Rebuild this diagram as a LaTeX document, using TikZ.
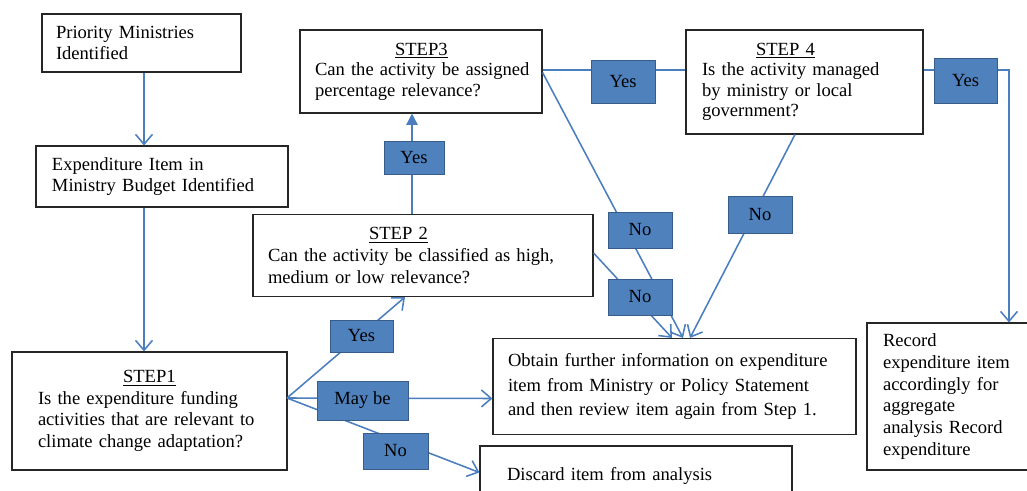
\documentclass[tikz,border=0pt]{standalone}
\usepackage{fontspec}
\setmainfont{Liberation Serif}
\usetikzlibrary{arrows.meta,positioning}

\newlength{\px}
\setlength{\px}{0.025cm}

\definecolor{linkblue}{RGB}{74,126,190}
\definecolor{tagfill}{RGB}{79,129,189}
\definecolor{tagedge}{RGB}{56,93,138}

\tikzset{
	stepbox/.style={draw=black!85, fill=white, line width=0.8pt, align=left, inner ysep=0pt, font=\fontsize{13.2}{15.4}\selectfont},
	tag/.style={draw=tagedge, fill=tagfill, line width=0.6pt, inner sep=0pt, font=\fontsize{13.2}{15.4}\selectfont},
	conn/.style={draw=linkblue, line width=1.1pt},
	arr/.style={conn, -{Straight Barb[length=7pt,width=12pt,line width=1.1pt]}},
	fillarr/.style={conn, -{Triangle[length=8pt,width=8pt]}},
}

\begin{document}
\begin{tikzpicture}[x=0.025cm,y=-0.025cm]
	\useasboundingbox (0,0) rectangle (1027,491);

	\node[stepbox, minimum height=58\px, text width=171\px, inner xsep=14\px] (p) at (141.5,43) {Priority Ministries\\Identified};
	\node[stepbox, minimum height=61\px, text width=220\px, inner xsep=16\px] (e) at (162,176.5) {Expenditure Item in\\Ministry Budget Identified};
	\node[stepbox, minimum height=118\px, text width=223\px, inner xsep=26\px] (s1) at (149.5,411) {\hspace*{85\px}\underline{STEP1}\\Is the expenditure funding\\activities that are relevant to\\climate change adaptation?};
	\node[stepbox, minimum height=82\px, text width=310\px, inner xsep=15\px] (s2) at (423,255.5) {\hspace*{101\px}\underline{STEP 2}\\Can the activity be classified as high,\\medium or low relevance?};
	\node[stepbox, minimum height=83\px, text width=220\px, inner xsep=11\px, font=\fontsize{13.2}{14.6}\selectfont] (s3) at (421,71.5) {\hspace*{84\px}\underline{STEP3}\\\hspace*{4\px}Can the activity be assigned\\\hspace*{4\px}percentage relevance?};
	\node[stepbox, minimum height=104\px, text width=205\px, inner xsep=16\px, font=\fontsize{13.2}{14.6}\selectfont] (s4) at (804.5,82) {\hspace*{54\px}\underline{STEP 4}\\Is the activity managed\\by ministry or local\\government?};
	\node[stepbox, minimum height=96\px, text width=333\px, inner xsep=15\px, font=\fontsize{13.2}{17.7}\selectfont] (o) at (674.5,386.5) {Obtain further information on expenditure\\item from Ministry or Policy Statement\\and then review item again from Step 1.};
	\node[stepbox, minimum height=59\px, text width=258\px, inner xsep=27\px] (d) at (636,475.5) {Discard item from analysis};
	\node[stepbox, minimum height=147\px, text width=141\px, inner xsep=16\px] (r) at (953.5,396.5) {Record\\expenditure item\\accordingly for\\aggregate\\analysis Record\\expenditure};

	\coordinate (spine) at (144,0);
	\coordinate (rise) at (412,0);
	\coordinate (drop) at (1009,0);
	\coordinate (fork) at (287,398);

	\draw[arr] (p.south -| spine) -- (e.north -| spine);
	\draw[arr] (e.south -| spine) -- (s1.north -| spine);
	\draw[arr] (fork) -- ([xshift=-18\px]s2.south);
	\draw[arr] (fork) -- ([yshift=-12\px]o.west);
	\draw[arr] (fork) -- ([yshift=3\px]d.west);
	\draw[fillarr] (s2.north -| rise) -- (s3.south -| rise);
	\draw[conn] ([yshift=1.5\px]s3.east) -- ([yshift=1.5\px]s3.east -| s4.west);
	\draw[arr] ([yshift=1.5\px]s3.east -| s4.east) -- ([yshift=1.5\px]s3.east -| drop) -- (r.north -| drop);
	\draw[arr] ([yshift=-1\px]s3.east) -- ([xshift=8.5\px]o.north);
	\draw[arr] ([yshift=2.5\px]s2.east) -- ([xshift=-2.5\px]o.north);
	\draw[arr] ([xshift=-9.5\px]s4.south) -- ([xshift=15.5\px]o.north);

	\node[tag, minimum width=64\px, minimum height=43\px] (yes34) at (623,81.5) {Yes};
	\node[tag, minimum width=63\px, minimum height=45\px] (yes4r) at (965.5,80.5) {Yes};
	\node[tag, minimum width=60\px, minimum height=33\px] (yes23) at (414,157.5) {Yes};
	\node[tag, minimum width=64\px, minimum height=36\px] (no3) at (640,230) {No};
	\node[tag, minimum width=64\px, minimum height=36\px] (no2) at (640,297) {No};
	\node[tag, minimum width=64\px, minimum height=37\px] (no4) at (760,214.5) {No};
	\node[tag, minimum width=63\px, minimum height=32\px] (yes12) at (361.5,336) {Yes};
	\node[tag, minimum width=91\px, minimum height=39\px] (maybe) at (362.5,400.5) {May be};
	\node[tag, minimum width=65\px, minimum height=36\px] (no1) at (395.5,451) {No};
\end{tikzpicture}
\end{document}
